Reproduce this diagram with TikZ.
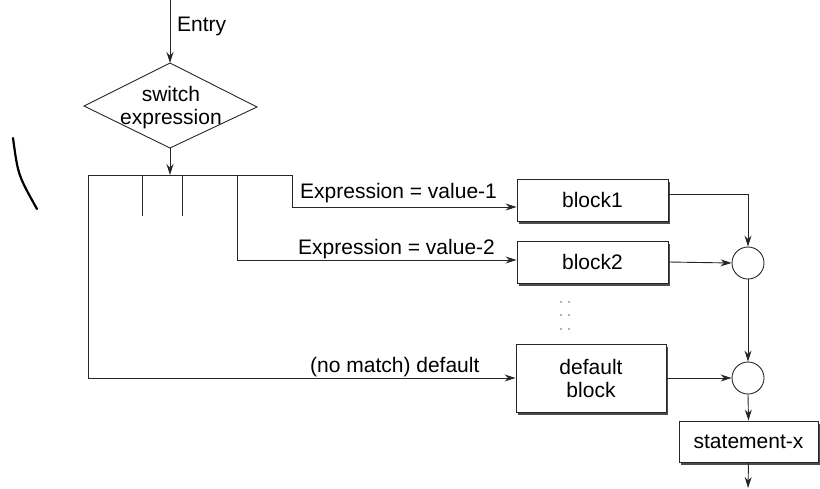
\documentclass[tikz,border=0pt]{standalone}
\usepackage{fontspec}
\setmainfont{Liberation Sans}
\usetikzlibrary{arrows.meta,shadows}
\begin{document}
\begin{tikzpicture}[x=1pt,y=-1pt,
  line/.style={draw=black!85, line width=0.9pt},
  arr/.style={line, -{Stealth[length=11pt,width=7pt]}},
  txt/.style={font=\fontsize{21}{23}\selectfont, inner sep=0pt},
  blockbox/.style={draw=black!85, line width=0.9pt, fill=white, txt, align=center,
    minimum width=151pt, minimum height=42pt,
    drop shadow={shadow xshift=2pt, shadow yshift=-3pt, fill=black!70, opacity=1}},
  joint/.style={circle, draw=black!85, line width=0.9pt, minimum size=32pt, inner sep=0pt},
]
\useasboundingbox (0,0) rectangle (820,488);

% entry and switch decision
\coordinate (entry) at (170,0);
\coordinate (dtop) at (170,63);
\coordinate (dleft) at (84,106);
\coordinate (dright) at (257,107);
\coordinate (dbot) at (170,148);
\draw[line] (dtop) -- (dright) -- (dbot) -- (dleft) -- cycle;
\node[txt, align=center] (sw) at (171,108) {switch\\expression};
\node[txt, anchor=base west] (entrylbl) at (177,31) {Entry};
\draw[arr] (entry) -- (dtop);

% distribution bar
\coordinate (barL) at (88,175);
\coordinate (barM) at (170,175);
\coordinate (barR) at (292,175);
\coordinate (t1) at (142,175);
\coordinate (t1e) at (142,216);
\coordinate (t2) at (182,175);
\coordinate (t2e) at (182,216);
\coordinate (t3) at (237,175);
\draw[arr] (dbot) -- (barM);
\draw[line] (barL) -- (barR);
\draw[line] (t1) -- (t1e);
\draw[line] (t2) -- (t2e);

% case blocks
\node[blockbox] (b1) at (592.5,200) {block1};
\node[blockbox] (b2) at (592.5,262) {block2};
\node[blockbox, minimum width=150pt, minimum height=68pt] (bd) at (591,378) {default\\block};
\node[blockbox, minimum width=139pt, minimum height=41pt] (sx) at (748.5,441.5) {statement-x};

% joins
\node[joint] (c1) at (748,263) {};
\node[joint] (c2) at (748,378) {};
\coordinate (exit) at (748,488);

% branches into the blocks
\draw[arr] (barR) |- ([yshift=-7pt]b1.west);
\draw[arr] (t3) |- ([yshift=2pt]b2.west);
\draw[arr] (barL) |- (bd.west);
\node[txt, anchor=base west] (l1) at (300,198) {Expression = value-1};
\node[txt, anchor=base west] (l2) at (298,254) {Expression = value-2};
\node[txt, anchor=base west] (l3) at (310,372) {(no match) default};

% outputs of the blocks
\draw[arr] ([yshift=6pt]b1.east) -| (c1.north);
\draw[arr] (b2.east) -- (c1.west);
\draw[arr] (c1.south) -- (c2.north);
\draw[arr] (bd.east) -- (c2.west);
\draw[arr] (c2.south) -- (sx.north);
\draw[arr] (sx.south) -- (exit);

% elided cases
\foreach \px in {561,569}
  \foreach \py in {302,315,329}
    \fill[black!60] (\px,\py) circle (0.8);

% stray pen stroke
\draw[black, line width=2.2pt, line cap=round] (13,138) .. controls (18,175) .. (37,209);
\end{tikzpicture}
\end{document}
